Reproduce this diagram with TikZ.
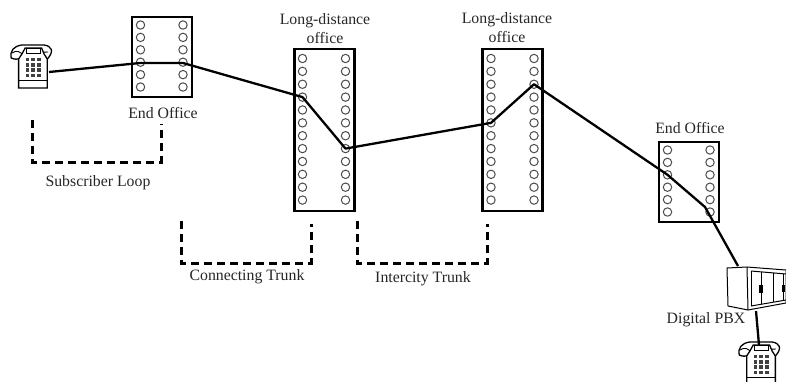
\documentclass[tikz,border=0pt]{standalone}
\usepackage{fontspec}
\setmainfont{Liberation Serif}
\begin{document}
\begin{tikzpicture}[x=1pt,y=-1pt,
  officebox/.style={draw=black,line width=2.6pt,fill=white,inner sep=0pt,minimum width=0pt},
  portc/.style={circle,draw=black!70,line width=1pt,fill=white,inner sep=0pt,minimum size=8.4pt},
  route/.style={line width=2.3pt,black,line join=round},
  span/.style={line width=3pt,black,dash pattern=on 8pt off 5pt},
  lab/.style={font=\fontsize{15.8}{19}\selectfont,text=black!85,inner sep=0pt,align=center},
  thinl/.style={line width=0.9pt,black},
  medl/.style={line width=1.3pt,black},
  pbxl/.style={line width=1pt,black},
  tel/.pic={
    \begin{scope}[xscale=0.82]
    \draw[medl,fill=white,line join=round] (-7,11) .. controls (-9,4) and (-4,-1) .. (6,-2) -- (33,-2) .. controls (42,-1) and (46,4) .. (37,12) .. controls (33,13) and (30,11) .. (30,6) -- (10,6) .. controls (9,11) and (1,14) .. (-7,11) -- cycle;
    \draw[thinl] (-6,6) .. controls (-1,3) and (4,4) .. (8,9);
    \draw[thinl] (38,5) .. controls (35,4) and (31,5) .. (29,9);
    \draw[medl,fill=white] (6,7) -- (10,1) -- (30,1) -- (33,7) -- (37,12) -- (37,41) -- (2,41) -- (2,12) -- cycle;
    \draw[thinl,fill=white] (12,1) rectangle (28,6);
    \draw[thinl] (2,33) -- (37,33);
    \foreach \i in {0,1,2}{\foreach \j in {0,1,2,3}{
      \fill[black!75] (10.5+\i*7,11+\j*5.2) rectangle ++(4.2,3.4);}}
    \end{scope}
  }]
\useasboundingbox (0,0) rectangle (786,381);
\fill[white] (0,0) rectangle (786,381);

% office boxes
\node[officebox,minimum width=60pt,minimum height=80pt] (bA) at (162,57) {};
\node[officebox,minimum width=60pt,minimum height=162pt] (bB) at (324.5,130) {};
\node[officebox,minimum width=60pt,minimum height=162pt] (bC) at (512.5,130) {};
\node[officebox,minimum width=60pt,minimum height=80pt] (bD) at (689,182) {};

% ports
\foreach \r in {1,...,6}{
  \node[portc] (aL\r) at (140.5,{25+(\r-1)*12.4}) {};
  \node[portc] (aR\r) at (183,{25+(\r-1)*12.4}) {};
  \node[portc] (dL\r) at (667.5,{150+(\r-1)*12.4}) {};
  \node[portc] (dR\r) at (710,{150+(\r-1)*12.4}) {};
}
\foreach \r in {1,...,12}{
  \node[portc] (bL\r) at (302.5,{58.5+(\r-1)*12.87}) {};
  \node[portc] (bR\r) at (345.5,{58.5+(\r-1)*12.87}) {};
  \node[portc] (cL\r) at (491,{58.5+(\r-1)*12.87}) {};
  \node[portc] (cR\r) at (534,{58.5+(\r-1)*12.87}) {};
}

% phones
\pic at (17,47) {tel};
\pic at (745,344) {tel};

% PBX
\draw[pbxl,fill=white] (727,268) -- (747,267) -- (786,270) -- (786,303) -- (748,310) -- (728,306) -- cycle;
\draw[pbxl] (747,267) -- (748,310);
\draw[pbxl] (751,271) -- (786,274);
\draw[pbxl] (751,271) -- (751,306);
\draw[pbxl] (751,306) -- (786,300);
\draw[pbxl] (761,272) -- (761,304);
\draw[pbxl] (773,273) -- (773,302);
\draw[pbxl] (783,274) -- (783,301);
\fill[black] (759,285) rectangle (763,293);
\fill[black] (781.5,285) rectangle (785,292);

% connector anchors
\coordinate (telA) at (49,72);
\coordinate (aIn) at (140,63);
\coordinate (aOut) at (183,63);
\coordinate (dBend) at (705,207);
\coordinate (pbxTop) at (738,266);
\coordinate (pbxBot) at (756,311);
\coordinate (telB) at (759,345);
\coordinate (s1a) at (32,120);
\coordinate (s1b) at (32,162);
\coordinate (s1c) at (161,162);
\coordinate (s1d) at (161,124);
\coordinate (s2a) at (181,221);
\coordinate (s2b) at (181,263);
\coordinate (s2c) at (311,263);
\coordinate (s2d) at (311,224);
\coordinate (s3a) at (357,221);
\coordinate (s3b) at (357,263);
\coordinate (s3c) at (487,263);
\coordinate (s3d) at (487,224);

% route
\draw[route] (telA) -- (aIn) -- (aOut) -- (bL4.center) -- (bR8.center) -- (cL6.center) -- (cR3.center) -- (dL3.center) -- (dBend) -- (pbxTop);
\draw[route] (pbxBot) -- (telB);

% spans
\draw[span] (s1a) -- (s1b) -- (s1c) -- (s1d);
\draw[span] (s2a) -- (s2b) -- (s2c) -- (s2d);
\draw[span] (s3a) -- (s3b) -- (s3c) -- (s3d);

% labels
\node[lab] (tA) at (163,113) {End Office};
\node[lab] (tB) at (325,29) {Long-distance\\office};
\node[lab] (tC) at (507,28) {Long-distance\\office};
\node[lab] (tD) at (690,128) {End Office};
\node[lab] (tE) at (98,183) {Subscriber Loop};
\node[lab] (tF) at (247,277) {Connecting Trunk};
\node[lab] (tG) at (423,279) {Intercity Trunk};
\node[lab] (tH) at (706,320) {Digital PBX};
\end{tikzpicture}
\end{document}
